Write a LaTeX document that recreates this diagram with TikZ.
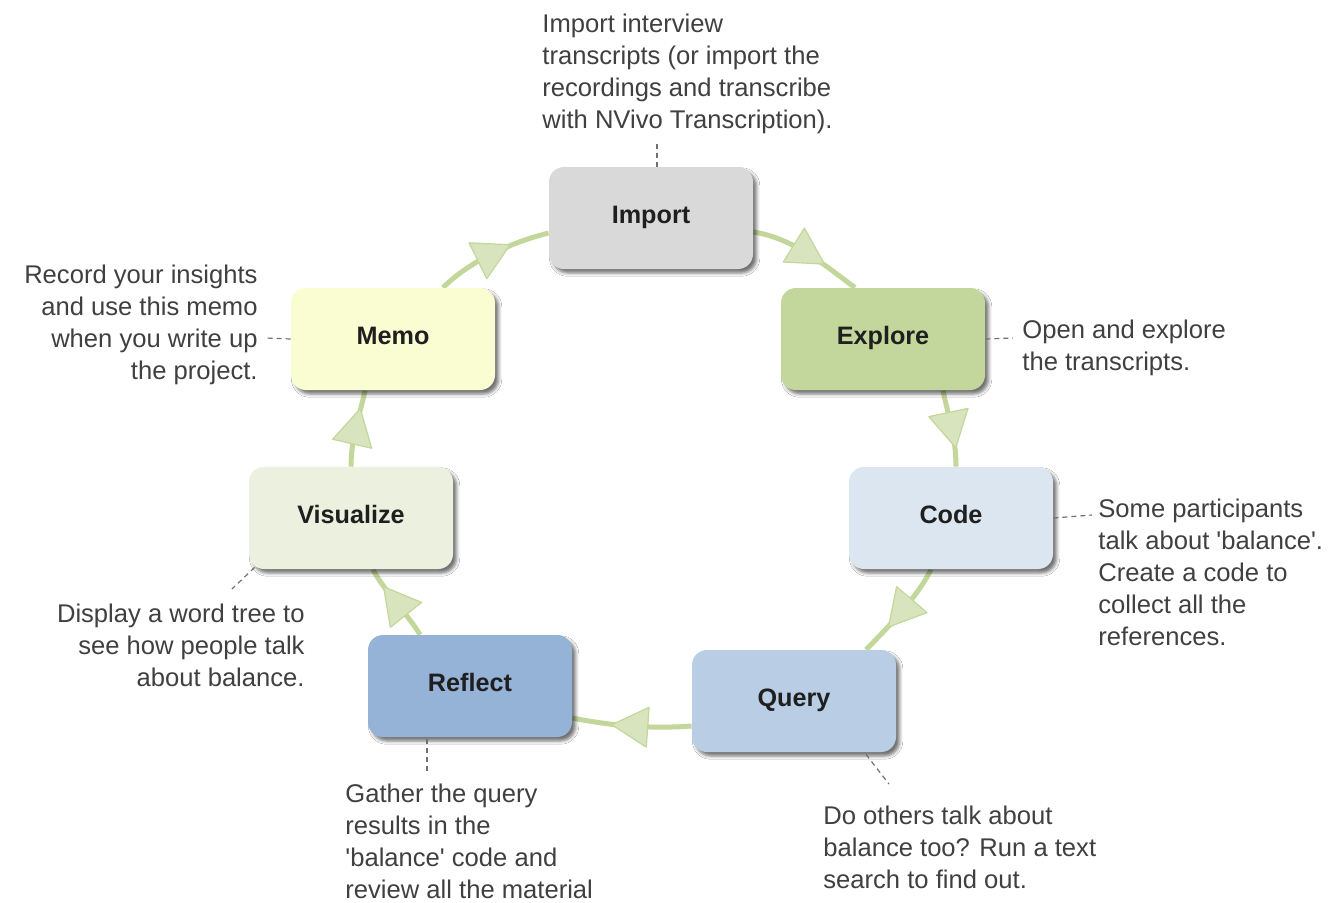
\documentclass[tikz,border=0pt]{standalone}
\usepackage{fontspec}
\setmainfont{Liberation Sans}
\usetikzlibrary{calc,decorations.markings,shadows.blur,backgrounds}
\definecolor{lineG}{HTML}{C4D79B}
\definecolor{triG}{HTML}{D7E4BD}
\definecolor{cImport}{HTML}{D9D9D9}
\definecolor{cExplore}{HTML}{C3D69B}
\definecolor{cCode}{HTML}{DCE6F1}
\definecolor{cQuery}{HTML}{B9CDE5}
\definecolor{cReflect}{HTML}{95B3D7}
\definecolor{cVis}{HTML}{EBF1DE}
\definecolor{cMemo}{HTML}{FAFCD2}
\definecolor{noteText}{HTML}{404040}
\definecolor{leadC}{HTML}{707070}
\tikzset{
  stepbox/.style={draw=none, rounded corners=7.5pt, minimum width=102pt, minimum height=51pt,
    font=\fontsize{12.6}{15}\selectfont\bfseries, text=black!88, text height=9pt, text depth=3.5pt,
    blur shadow={shadow xshift=1.8pt, shadow yshift=-2pt, shadow blur radius=1.6pt, shadow opacity=55}},
  note/.style={font=\fontsize{12.8}{16}\selectfont, text=noteText, inner sep=0pt},
  leader/.style={draw=leadC, line width=0.6pt, dash pattern=on 2.5pt off 2pt},
  flow/.style={draw=lineG, line width=2.5pt, postaction={decorate},
    decoration={markings, mark=at position #1 with {\filldraw[fill=triG, draw=lineG, line width=0.6pt, line join=round] (10pt,0) -- (-8pt,10pt) -- (-8pt,-10pt) -- cycle;}}},
  flow/.default=0.5
}
\begin{document}
\begin{tikzpicture}[x=0.5pt, y=-0.5pt]
\useasboundingbox (0,0) rectangle (1330,902);

% boxes
\node[stepbox, fill=cImport]  (imp) at (651,218) {Import};
\node[stepbox, fill=cExplore] (exp) at (883,339) {Explore};
\node[stepbox, fill=cCode]    (cod) at (951,518) {Code};
\node[stepbox, fill=cQuery]   (qry) at (794,701) {Query};
\node[stepbox, fill=cReflect] (rfl) at (470,686) {Reflect};
\node[stepbox, fill=cVis]     (vis) at (351,518) {Visualize};
\node[stepbox, fill=cMemo]    (mem) at (393,339) {Memo};

% connectors
\begin{pgfonlayer}{background}
\fill[white] (0,0) rectangle (1330,902);
\draw[flow] ($(imp.east)+(0,14)$) .. controls +(40,6) and +(-30,-22) .. ($(exp.north)+(-28,0)$);
\draw[flow] ($(exp.south)+(60,0)$) .. controls +(5,25) and +(0,-30) .. ($(cod.north)+(5,0)$);
\draw[flow] ($(cod.south)+(-20,0)$) .. controls +(-12,25) and +(25,-25) .. ($(qry.north)+(72,0)$);
\draw[flow] ($(qry.west)+(0,25)$) .. controls +(-40,3) and +(40,8) .. ($(rfl.east)+(0,32)$);
\draw[flow] ($(rfl.north)+(-50,0)$) .. controls +(-12,-20) and +(10,20) .. ($(vis.south)+(22,0)$);
\draw[flow] ($(vis.north)+(0,0)$) .. controls +(0,-30) and +(-5,25) .. ($(mem.south)+(-28,0)$);
\draw[flow] ($(mem.north)+(50,0)$) .. controls +(25,-25) and +(-40,10) .. ($(imp.west)+(0,15)$);
\end{pgfonlayer}

% notes (anchored at the baseline of the last line)
\node[note, align=left, anchor=base west] (nimp) at (542,128)
  {Import interview\\transcripts (or import the\\recordings and transcribe\\with NVivo Transcription).};
\node[note, align=left, anchor=base west] (nexp) at (1022,370)
  {Open and explore\\the transcripts.};
\node[note, align=left, anchor=base west] (ncod) at (1098,645)
  {Some participants\\talk about \textquotesingle balance\textquotesingle.\\Create a code to\\collect all the\\references.};
\node[note, align=left, anchor=base west] (nqry) at (823,888)
  {Do others talk about\\balance too? Run a text\\search to find out.};
\node[note, align=left, anchor=base west] (nrfl) at (345,898)
  {Gather the query\\results in the\\\textquotesingle balance\textquotesingle{} code and\\review all the material};
\node[note, align=right, anchor=base east] (nvis) at (305,686)
  {Display a word tree to\\see how people talk\\about balance.};
\node[note, align=right, anchor=base east] (nmem) at (258,379)
  {Record your insights\\and use this memo\\when you write up\\the project.};

% leaders
\coordinate (limp) at (657,140);
\coordinate (lexp) at (1013,338);
\coordinate (lcod) at (1092,515);
\coordinate (lqry) at (889,784);
\coordinate (lrfl) at (427,771);
\coordinate (lvis) at (232,589);
\coordinate (lmem) at (266,338);
\draw[leader] ($(imp.north)+(6,0)$) -- (limp);
\draw[leader] (exp.east) -- (lexp);
\draw[leader] (cod.east) -- (lcod);
\draw[leader] ($(qry.south)+(72,2)$) -- (lqry);
\draw[leader] ($(rfl.south)+(-43,2)$) -- (lrfl);
\draw[leader] ($(vis.south west)+(6,-2)$) -- (lvis);
\draw[leader] (mem.west) -- (lmem);
\end{tikzpicture}
\end{document}
